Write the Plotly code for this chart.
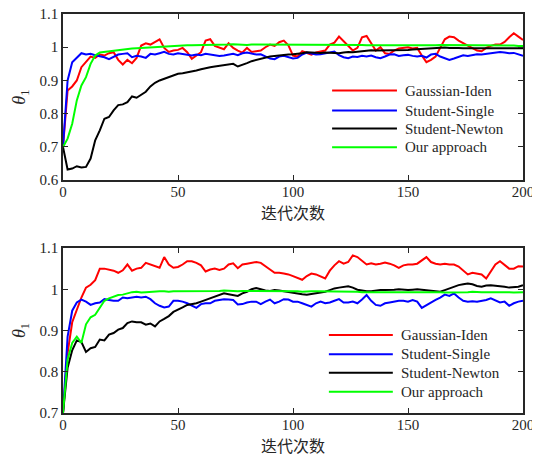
import plotly.graph_objects as go
from plotly.subplots import make_subplots

iterations = list(range(0, 201, 2))
series_names = ["Gaussian-Iden", "Student-Single", "Student-Newton", "Our approach"]
series_colors = ["#FF0000", "#0000FF", "#000000", "#00FF00"]

top_gaussian = [
    0.700, 0.870, 0.882, 0.900, 0.940, 0.955, 0.972, 0.968, 0.978, 0.975,
    0.982, 0.985, 0.962, 0.948, 0.962, 0.952, 0.968, 1.005, 1.012, 1.008,
    1.016, 1.024, 0.998, 0.986, 0.990, 0.992, 0.998, 0.985, 0.965, 0.975,
    0.985, 1.020, 1.024, 1.004, 0.998, 0.994, 1.012, 0.998, 0.990, 0.984,
    0.998, 0.986, 0.988, 0.990, 1.000, 1.008, 1.004, 1.015, 1.020, 1.006,
    0.975, 0.972, 0.988, 0.982, 0.978, 0.984, 0.986, 0.990, 1.008, 1.014,
    1.032, 1.018, 1.004, 0.990, 0.998, 1.030, 1.034, 1.010, 0.990, 1.000,
    0.982, 0.980, 0.990, 0.996, 0.998, 1.000, 0.996, 0.998, 0.975, 0.955,
    0.962, 0.972, 0.998, 1.024, 1.032, 1.030, 1.020, 1.012, 1.004, 0.998,
    0.990, 0.988, 0.998, 1.004, 1.008, 1.008, 1.016, 1.030, 1.042, 1.032,
    1.022]
top_single = [
    0.700, 0.900, 0.955, 0.968, 0.982, 0.978, 0.980, 0.976, 0.974, 0.970,
    0.964, 0.972, 0.978, 0.980, 0.982, 0.970, 0.974, 0.972, 0.968, 0.980,
    0.978, 0.982, 0.986, 0.980, 0.978, 0.982, 0.980, 0.976, 0.975, 0.978,
    0.976, 0.980, 0.978, 0.976, 0.974, 0.975, 0.978, 0.980, 0.976, 0.982,
    0.984, 0.980, 0.978, 0.979, 0.972, 0.966, 0.964, 0.972, 0.974, 0.970,
    0.966, 0.968, 0.978, 0.984, 0.980, 0.978, 0.979, 0.982, 0.984, 0.987,
    0.976, 0.970, 0.967, 0.972, 0.971, 0.974, 0.972, 0.975, 0.970, 0.967,
    0.972, 0.978, 0.979, 0.974, 0.976, 0.977, 0.974, 0.972, 0.974, 0.969,
    0.978, 0.980, 0.972, 0.968, 0.962, 0.966, 0.972, 0.976, 0.974, 0.977,
    0.979, 0.978, 0.980, 0.982, 0.984, 0.986, 0.984, 0.982, 0.983, 0.978,
    0.974]
top_newton = [
    0.700, 0.632, 0.635, 0.642, 0.638, 0.640, 0.665, 0.720, 0.750, 0.785,
    0.790, 0.810, 0.826, 0.828, 0.835, 0.852, 0.848, 0.858, 0.866, 0.882,
    0.893, 0.900, 0.905, 0.910, 0.915, 0.920, 0.922, 0.924, 0.928, 0.930,
    0.934, 0.938, 0.940, 0.942, 0.944, 0.946, 0.947, 0.950, 0.942, 0.946,
    0.952, 0.958, 0.962, 0.965, 0.968, 0.972, 0.974, 0.976, 0.976, 0.978,
    0.979, 0.980, 0.982, 0.985, 0.984, 0.982, 0.983, 0.984, 0.983, 0.984,
    0.982, 0.984, 0.986, 0.985, 0.987, 0.989, 0.990, 0.991, 0.990, 0.990,
    0.991, 0.990, 0.991, 0.992, 0.991, 0.992, 0.993, 0.994, 0.995, 0.996,
    0.997, 0.998, 0.999, 0.999, 0.998, 0.999, 0.998, 0.997, 0.997, 0.997,
    0.996, 0.996, 0.996, 0.995, 0.996, 0.996, 0.997, 0.996, 0.997, 0.997,
    0.997]
top_ours = [
    0.700, 0.725, 0.770, 0.840, 0.885, 0.910, 0.950, 0.975, 0.984, 0.986,
    0.987, 0.989, 0.991, 0.993, 0.995, 0.996, 0.997, 0.998, 0.999, 1.000,
    1.001, 1.002, 1.003, 1.003, 1.004, 1.005, 1.005, 1.006, 1.006, 1.006,
    1.007, 1.007, 1.008, 1.008, 1.008, 1.008, 1.008, 1.009, 1.008, 1.008,
    1.007, 1.008, 1.008, 1.007, 1.008, 1.008, 1.007, 1.007, 1.008, 1.008,
    1.008, 1.007, 1.007, 1.008, 1.008, 1.007, 1.008, 1.008, 1.008, 1.009,
    1.009, 1.008, 1.008, 1.008, 1.007, 1.007, 1.006, 1.006, 1.006, 1.005,
    1.005, 1.005, 1.004, 1.005, 1.005, 1.005, 1.005, 1.006, 1.006, 1.006,
    1.006, 1.006, 1.007, 1.007, 1.006, 1.007, 1.007, 1.006, 1.007, 1.007,
    1.007, 1.007, 1.006, 1.006, 1.006, 1.006, 1.006, 1.005, 1.005, 1.004,
    1.004]

bot_gaussian = [
    0.700, 0.845, 0.920, 0.950, 0.980, 1.004, 1.011, 1.022, 1.050, 1.050,
    1.048, 1.045, 1.040, 1.046, 1.060, 1.045, 1.050, 1.052, 1.064, 1.060,
    1.055, 1.052, 1.078, 1.060, 1.052, 1.054, 1.060, 1.068, 1.068, 1.064,
    1.058, 1.043, 1.048, 1.050, 1.047, 1.050, 1.060, 1.063, 1.051, 1.060,
    1.062, 1.064, 1.066, 1.064, 1.055, 1.048, 1.040, 1.040, 1.038, 1.036,
    1.032, 1.028, 1.023, 1.032, 1.038, 1.036, 1.030, 1.026, 1.045, 1.058,
    1.068, 1.062, 1.066, 1.082, 1.078, 1.070, 1.060, 1.063, 1.060, 1.062,
    1.065, 1.062, 1.058, 1.052, 1.058, 1.060, 1.060, 1.062, 1.070, 1.078,
    1.066, 1.062, 1.060, 1.062, 1.060, 1.060, 1.055, 1.045, 1.036, 1.040,
    1.038, 1.036, 1.026, 1.042, 1.060, 1.068, 1.060, 1.050, 1.050, 1.056,
    1.055]
bot_single = [
    0.700, 0.885, 0.948, 0.968, 0.975, 0.970, 0.962, 0.966, 0.968, 0.976,
    0.974, 0.972, 0.972, 0.980, 0.978, 0.980, 0.982, 0.980, 0.982, 0.976,
    0.966, 0.960, 0.956, 0.958, 0.972, 0.972, 0.970, 0.966, 0.960, 0.955,
    0.964, 0.966, 0.966, 0.972, 0.974, 0.976, 0.975, 0.974, 0.963, 0.964,
    0.968, 0.970, 0.970, 0.964, 0.970, 0.975, 0.966, 0.970, 0.976, 0.975,
    0.970, 0.970, 0.966, 0.962, 0.958, 0.966, 0.970, 0.966, 0.968, 0.972,
    0.976, 0.968, 0.968, 0.970, 0.966, 0.975, 0.986, 0.972, 0.962, 0.960,
    0.966, 0.968, 0.970, 0.972, 0.972, 0.970, 0.974, 0.970, 0.955, 0.962,
    0.968, 0.974, 0.980, 0.987, 0.984, 0.990, 0.980, 0.972, 0.970, 0.971,
    0.970, 0.972, 0.974, 0.978, 0.972, 0.968, 0.970, 0.960, 0.966, 0.970,
    0.972]
bot_newton = [
    0.700, 0.810, 0.852, 0.876, 0.872, 0.848, 0.857, 0.860, 0.878, 0.876,
    0.890, 0.894, 0.902, 0.906, 0.918, 0.922, 0.920, 0.920, 0.914, 0.917,
    0.910, 0.922, 0.928, 0.935, 0.945, 0.950, 0.956, 0.962, 0.964, 0.966,
    0.970, 0.974, 0.978, 0.982, 0.986, 0.990, 0.988, 0.986, 0.984, 0.990,
    0.994, 1.000, 1.003, 1.000, 0.997, 0.996, 0.998, 0.997, 0.995, 0.993,
    0.991, 0.990, 0.988, 0.987, 0.989, 0.990, 0.992, 0.994, 0.998, 1.002,
    1.004, 1.006, 1.007, 1.004, 0.999, 0.997, 0.995, 0.995, 0.997, 0.998,
    0.998, 0.998, 0.999, 1.000, 0.999, 0.998, 0.999, 1.000, 0.999, 0.998,
    0.997, 0.995, 0.994, 0.998, 1.002, 1.006, 1.010, 1.012, 1.014, 1.012,
    1.008, 1.006, 1.009, 1.010, 1.009, 1.008, 1.006, 1.004, 1.005, 1.006,
    1.010]
bot_ours = [
    0.700, 0.830, 0.870, 0.885, 0.870, 0.915, 0.932, 0.938, 0.955, 0.972,
    0.978, 0.983, 0.986, 0.987, 0.990, 0.993, 0.994, 0.992, 0.993, 0.994,
    0.994, 0.995, 0.995, 0.994, 0.995, 0.995, 0.996, 0.995, 0.995, 0.996,
    0.996, 0.996, 0.995, 0.996, 0.996, 0.997, 0.996, 0.996, 0.995, 0.996,
    0.996, 0.995, 0.995, 0.996, 0.995, 0.995, 0.995, 0.996, 0.995, 0.995,
    0.995, 0.995, 0.994, 0.995, 0.995, 0.995, 0.995, 0.994, 0.995, 0.995,
    0.995, 0.994, 0.994, 0.994, 0.994, 0.993, 0.993, 0.993, 0.994, 0.993,
    0.993, 0.993, 0.993, 0.993, 0.993, 0.994, 0.993, 0.993, 0.993, 0.993,
    0.993, 0.993, 0.993, 0.992, 0.992, 0.993, 0.993, 0.993, 0.993, 0.994,
    0.993, 0.993, 0.993, 0.993, 0.994, 0.993, 0.993, 0.993, 0.992, 0.993,
    0.993]

top_series = [top_gaussian, top_single, top_newton, top_ours]
bot_series = [bot_gaussian, bot_single, bot_newton, bot_ours]

x_ticks = [0, 50, 100, 150, 200]
top_y_ticks = [0.6, 0.7, 0.8, 0.9, 1.0, 1.1]
top_y_labels = ["0.6", "0.7", "0.8", "0.9", "1", "1.1"]
bot_y_ticks = [0.7, 0.8, 0.9, 1.0, 1.1]
bot_y_labels = ["0.7", "0.8", "0.9", "1", "1.1"]

x_title = "迭代次数"
y_title = "<i>θ</i><sub>1</sub>"

SERIF = "Liberation Serif, Times New Roman, serif"
CJK = "Noto Sans CJK SC"
AX = "#262626"

fig = make_subplots(rows=2, cols=1, vertical_spacing=0.17)

for name, color, ys in zip(series_names, series_colors, top_series):
    fig.add_trace(go.Scatter(x=iterations, y=ys, mode="lines", name=name,
                             line=dict(color=color, width=2), showlegend=False),
                  row=1, col=1)
for name, color, ys in zip(series_names, series_colors, bot_series):
    fig.add_trace(go.Scatter(x=iterations, y=ys, mode="lines", name=name,
                             line=dict(color=color, width=2), showlegend=False),
                  row=2, col=1)

axis_common = dict(showline=True, linecolor=AX, linewidth=1.5, mirror="ticks",
                   ticks="inside", ticklen=5, tickwidth=1, tickcolor=AX,
                   showgrid=False, zeroline=False, automargin=False,
                   ticklabeloverflow="allow",
                   tickfont=dict(family=SERIF, size=15, color=AX))

# page body has an 8px default margin, so the figure is sized to the visible area
fig.update_layout(
    width=532, height=449,
    margin=dict(l=55, r=17, t=6, b=44, autoexpand=False),
    paper_bgcolor="white", plot_bgcolor="white",
    font=dict(family=SERIF, size=15, color=AX),
    showlegend=False,
    xaxis=dict(range=[0, 200], tickvals=x_ticks, domain=[0, 1], ticklabelstandoff=-3,
               title=dict(text=x_title, font=dict(family=CJK, size=16, color=AX), standoff=2),
               **axis_common),
    xaxis2=dict(range=[0, 200], tickvals=x_ticks, domain=[0, 1], ticklabelstandoff=-3,
                title=dict(text=x_title, font=dict(family=CJK, size=16, color=AX), standoff=2),
                **axis_common),
    yaxis=dict(range=[0.6, 1.1], tickvals=top_y_ticks, ticktext=top_y_labels,
               domain=[0.5835, 1.0],
               title=dict(text=y_title, font=dict(family=SERIF, size=18, color=AX), standoff=9),
               **axis_common),
    yaxis2=dict(range=[0.7, 1.1], tickvals=bot_y_ticks, ticktext=bot_y_labels,
                domain=[0.0, 0.4135],
                title=dict(text=y_title, font=dict(family=SERIF, size=18, color=AX), standoff=9),
                **axis_common),
)

# custom legends (positions in axis-domain fractions)
legend_specs = [
    dict(xref="x domain", yref="y domain", x0=0.585, x1=0.726, xt=0.739,
         rows=[0.539, 0.419, 0.311, 0.198]),
    dict(xref="x2 domain", yref="y2 domain", x0=0.578, x1=0.717, xt=0.730,
         rows=[0.473, 0.356, 0.244, 0.129]),
]
for spec in legend_specs:
    for name, color, yr in zip(series_names, series_colors, spec["rows"]):
        fig.add_shape(type="line", xref=spec["xref"], yref=spec["yref"],
                      x0=spec["x0"], x1=spec["x1"], y0=yr, y1=yr,
                      line=dict(color=color, width=2))
        fig.add_annotation(xref=spec["xref"], yref=spec["yref"], x=spec["xt"], y=yr,
                           text=name, showarrow=False, xanchor="left", yanchor="middle",
                           font=dict(family=SERIF, size=15, color=AX))

fig.write_html("out.html")
